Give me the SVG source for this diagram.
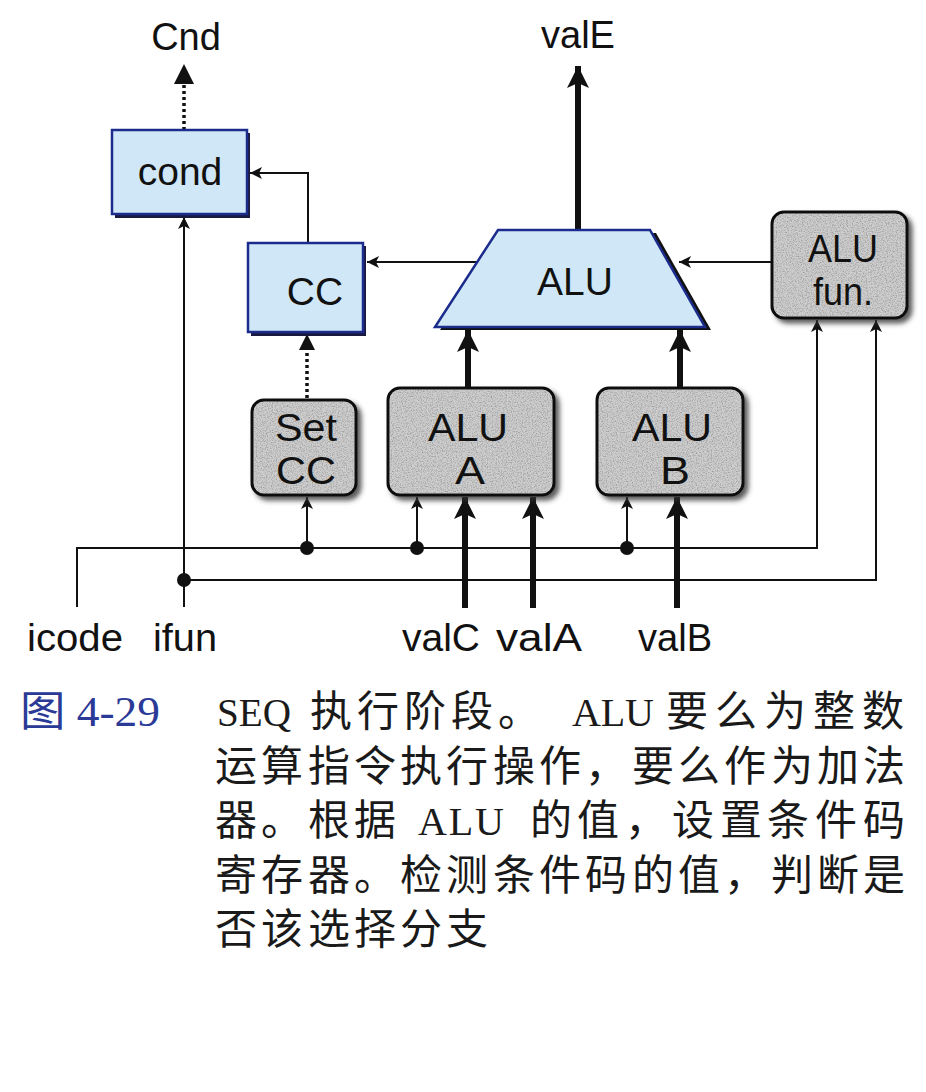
<svg xmlns="http://www.w3.org/2000/svg" width="926" height="1092" viewBox="0 0 926 1092">
<defs>
<style>
.lbl{font-family:"Liberation Sans",Arial,sans-serif;font-size:38px;fill:#111;}
.blab{font-family:"Liberation Sans",Arial,sans-serif;font-size:39px;fill:#111;text-anchor:middle;}
.glab{font-family:"Liberation Sans",Arial,sans-serif;font-size:39px;fill:#111;text-anchor:middle;}
.blue{fill:#cfe7f7;stroke:#1c2c8c;stroke-width:2.5;}
.gray{fill:#cdcdcd;stroke:#111;stroke-width:3;}
.thin{fill:none;stroke:#111;stroke-width:2;}
.thick{fill:none;stroke:#111;stroke-width:6;}
.dot{fill:none;stroke:#111;stroke-width:3.5;stroke-dasharray:3 3;}
.cap{font-family:"Liberation Serif","Noto Sans CJK SC",serif;font-size:42px;fill:#1a1a1a;}
.lat{font-family:"Liberation Serif",serif;font-size:40px;}
</style>
<marker id="ah" markerUnits="userSpaceOnUse" markerWidth="14" markerHeight="12" refX="12" refY="6" orient="auto">
<path d="M0,0 L12,6 L0,12 L3,6 Z" fill="#111"/>
</marker>
<marker id="ahk" markerUnits="userSpaceOnUse" markerWidth="24" markerHeight="22" refX="22" refY="11" orient="auto">
<path d="M0,0 L22,11 L0,22 L5,11 Z" fill="#111"/>
</marker>
<filter id="sh" x="-10%" y="-10%" width="130%" height="130%">
<feGaussianBlur in="SourceAlpha" stdDeviation="2.5"/>
<feOffset dx="4" dy="4" result="b"/>
<feFlood flood-color="#333" flood-opacity="0.8"/>
<feComposite in2="b" operator="in"/>
<feMerge><feMergeNode/><feMergeNode in="SourceGraphic"/></feMerge>
</filter>
<filter id="grain" x="0" y="0" width="100%" height="100%">
<feTurbulence type="fractalNoise" baseFrequency="0.8" numOctaves="2" seed="5" result="n"/>
<feColorMatrix in="n" type="matrix" values="0 0 0 0 0.3  0 0 0 0 0.3  0 0 0 0 0.3  0 0 0 2.2 -0.95" result="g"/>
<feComposite in="g" in2="SourceAlpha" operator="in"/>
</filter>
</defs>
<rect width="926" height="1092" fill="#ffffff"/>

<g id="connectors">
<path class="dot" d="M184,130 V80"/>
<path d="M184,64 L194,84 L174,84 Z" fill="#111"/>
<path class="thin" d="M308,243 V173 H250" marker-end="url(#ah)"/>
<path class="thin" d="M184,607 V217" marker-end="url(#ah)"/>
<path class="thin" d="M477,262 H367" marker-end="url(#ah)"/>
<path class="thin" d="M772,262 H679" marker-end="url(#ah)"/>
<path class="thick" d="M578,230 V66" marker-end="url(#ahk)"/>
<path class="thick" d="M468,388 V330" marker-end="url(#ahk)"/>
<path class="thick" d="M680,388 V330" marker-end="url(#ahk)"/>
<path class="dot" d="M307,398 V346"/>
<path d="M307,334 L315,350 L299,350 Z" fill="#111"/>
<path class="thin" d="M77,607 V548 H817 V320" marker-end="url(#ah)"/>
<path class="thin" d="M184,580 H876 V320" marker-end="url(#ah)"/>
<path class="thin" d="M307,548 V497" marker-end="url(#ah)"/>
<path class="thin" d="M417,548 V497" marker-end="url(#ah)"/>
<path class="thin" d="M627,548 V497" marker-end="url(#ah)"/>
<path class="thick" d="M465,608 V497" marker-end="url(#ahk)"/>
<path class="thick" d="M533,608 V497" marker-end="url(#ahk)"/>
<path class="thick" d="M677,608 V497" marker-end="url(#ahk)"/>
<circle cx="307" cy="548" r="7" fill="#111"/>
<circle cx="417" cy="548" r="7" fill="#111"/>
<circle cx="627" cy="548" r="7" fill="#111"/>
<circle cx="184" cy="580" r="7" fill="#111"/>
</g>

<g id="cond">
<rect x="115" y="133" width="135" height="85" fill="#1a1a40"/>
<rect class="blue" x="112" y="130" width="135" height="84"/>
<text class="blab" x="180" y="185">cond</text>
</g>

<g id="cc">
<rect x="251" y="246" width="115" height="90" fill="#1a1a40"/>
<rect class="blue" x="248" y="243" width="115" height="89"/>
<text class="blab" x="315" y="305">CC</text>
</g>

<g id="alu">
<path d="M504,233 L656,233 L711,330 L440,330 Z" fill="#111"/>
<path class="blue" d="M498,230 L650,230 L705,327 L435,327 Z"/>
<text class="blab" x="575" y="295">ALU</text>
</g>

<g id="alufun">
<rect class="gray" x="772" y="212" width="135" height="106" rx="12" filter="url(#sh)"/>
<rect x="774" y="214" width="131" height="102" rx="11" fill="#000" filter="url(#grain)"/>
<text class="glab" x="843" y="262" textLength="70" lengthAdjust="spacingAndGlyphs">ALU</text>
<text class="glab" x="843" y="305" textLength="60" lengthAdjust="spacingAndGlyphs">fun.</text>
</g>

<g id="setcc">
<rect class="gray" x="252" y="400" width="104" height="95" rx="12" filter="url(#sh)"/>
<rect x="254" y="402" width="100" height="91" rx="11" fill="#000" filter="url(#grain)"/>
<text class="glab" x="306" y="441" textLength="62" lengthAdjust="spacingAndGlyphs">Set</text>
<text class="glab" x="306" y="484" textLength="60" lengthAdjust="spacingAndGlyphs">CC</text>
</g>

<g id="alua">
<rect class="gray" x="388" y="388" width="166" height="107" rx="12" filter="url(#sh)"/>
<rect x="390" y="390" width="162" height="103" rx="11" fill="#000" filter="url(#grain)"/>
<text class="glab" x="468" y="441" textLength="80" lengthAdjust="spacingAndGlyphs">ALU</text>
<text class="glab" x="470" y="484" textLength="30" lengthAdjust="spacingAndGlyphs">A</text>
</g>

<g id="alub">
<rect class="gray" x="597" y="388" width="146" height="107" rx="12" filter="url(#sh)"/>
<rect x="599" y="390" width="142" height="103" rx="11" fill="#000" filter="url(#grain)"/>
<text class="glab" x="672" y="441" textLength="80" lengthAdjust="spacingAndGlyphs">ALU</text>
<text class="glab" x="675" y="484" textLength="30" lengthAdjust="spacingAndGlyphs">B</text>
</g>

<g id="labels">
<text class="lbl" x="186" y="50" text-anchor="middle">Cnd</text>
<text class="lbl" x="578" y="48" text-anchor="middle">valE</text>
<text class="lbl" x="27" y="651" textLength="96" lengthAdjust="spacingAndGlyphs">icode</text>
<text class="lbl" x="153" y="651" textLength="64" lengthAdjust="spacingAndGlyphs">ifun</text>
<text class="lbl" x="402" y="651" textLength="78" lengthAdjust="spacingAndGlyphs">valC</text>
<text class="lbl" x="496" y="651" textLength="86" lengthAdjust="spacingAndGlyphs">valA</text>
<text class="lbl" x="638" y="651" textLength="74" lengthAdjust="spacingAndGlyphs">valB</text>
</g>

<g id="caption">
<text class="cap" x="20" y="726" style="fill:#2a3a96" textLength="140" lengthAdjust="spacingAndGlyphs">图 4-29</text>
<text class="cap" y="726"><tspan class="lat" x="217" textLength="74" lengthAdjust="spacingAndGlyphs">SEQ</tspan><tspan x="310 357 404 451 498">执行阶段。</tspan><tspan class="lat" x="572" textLength="82" lengthAdjust="spacing">ALU</tspan><tspan x="666 715 764 813 862">要么为整数</tspan></text>
<text class="cap" y="781" x="215 261 308 354 400 446 493 539 585 632 678 724 771 817 863">运算指令执行操作，要么作为加法</text>
<text class="cap" y="835"><tspan x="215 261 308 354">器。根据</tspan><tspan class="lat" x="418" textLength="86" lengthAdjust="spacing">ALU</tspan><tspan x="530 577 625 672 720 767 815 863">的值，设置条件码</tspan></text>
<text class="cap" y="890" x="215 261 308 354 400 446 493 539 585 632 678 724 771 817 863">寄存器。检测条件码的值，判断是</text>
<text class="cap" y="944" x="215 261 308 354 400 446">否该选择分支</text>
</g>
</svg>
